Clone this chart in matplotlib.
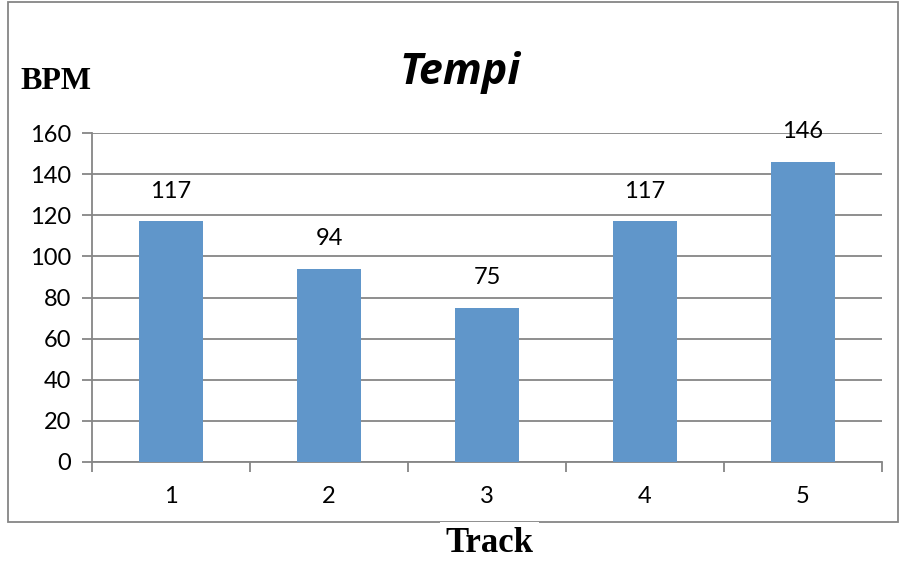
import matplotlib.pyplot as plt
from matplotlib.patches import Rectangle

tracks = ['1', '2', '3', '4', '5']
bpm = [117, 94, 75, 117, 146]
yticks = [0, 20, 40, 60, 80, 100, 120, 140, 160]

grey = '#868686'
blue = '#6096CA'
plt.rcParams['font.family'] = ['Lato', 'DejaVu Sans']

fig = plt.figure(figsize=(9.04, 5.67), dpi=100)
ax = fig.add_axes([0.1018, 0.1852, 0.8739, 0.5802])

x = list(range(len(tracks)))
ax.bar(x, bpm, width=0.4, color=blue, zorder=3)
for xi, v in zip(x, bpm):
    ax.annotate(str(v), (xi, v), xytext=(0, 14), textcoords='offset points',
                ha='center', va='bottom', fontsize=17, color='black')

ax.set_xlim(-0.5, len(tracks) - 0.5)
ax.set_ylim(0, 160)
ax.set_yticks(yticks)
ax.set_xticks(x)
ax.set_xticklabels(tracks)
ax.set_xticks([i - 0.5 for i in range(len(tracks) + 1)], minor=True)
ax.tick_params(axis='x', which='major', length=0, pad=17, labelsize=17)
ax.tick_params(axis='x', which='minor', length=7, width=1.3, color=grey)
ax.tick_params(axis='y', length=7, width=1.3, color=grey, pad=8, labelsize=17)
ax.yaxis.grid(True, color=grey, linewidth=1.3, zorder=0)
for s in ['top', 'right']:
    ax.spines[s].set_visible(False)
for s in ['left', 'bottom']:
    ax.spines[s].set_color(grey)
    ax.spines[s].set_linewidth(1.3)

# chart frame
fig.patches.append(Rectangle((8 / 904, 45 / 567), 890 / 904, 520 / 567,
                             transform=fig.transFigure, fill=False,
                             edgecolor=grey, linewidth=1.3))

fig.text(0.509, 0.873, 'Tempi', ha='center', va='center', fontsize=31,
         fontweight='bold', fontstyle='italic', family='Open Sans')
fig.text(0.062, 0.856, 'BPM', ha='center', va='center', fontsize=23,
         family='Liberation Serif', fontweight='bold')
fig.text(0.541, 0.041, 'Track', ha='center', va='center', fontsize=25,
         family='Liberation Serif', fontweight='bold',
         bbox=dict(facecolor='white', edgecolor='none', pad=4))

fig.savefig('out.png', dpi=100)
